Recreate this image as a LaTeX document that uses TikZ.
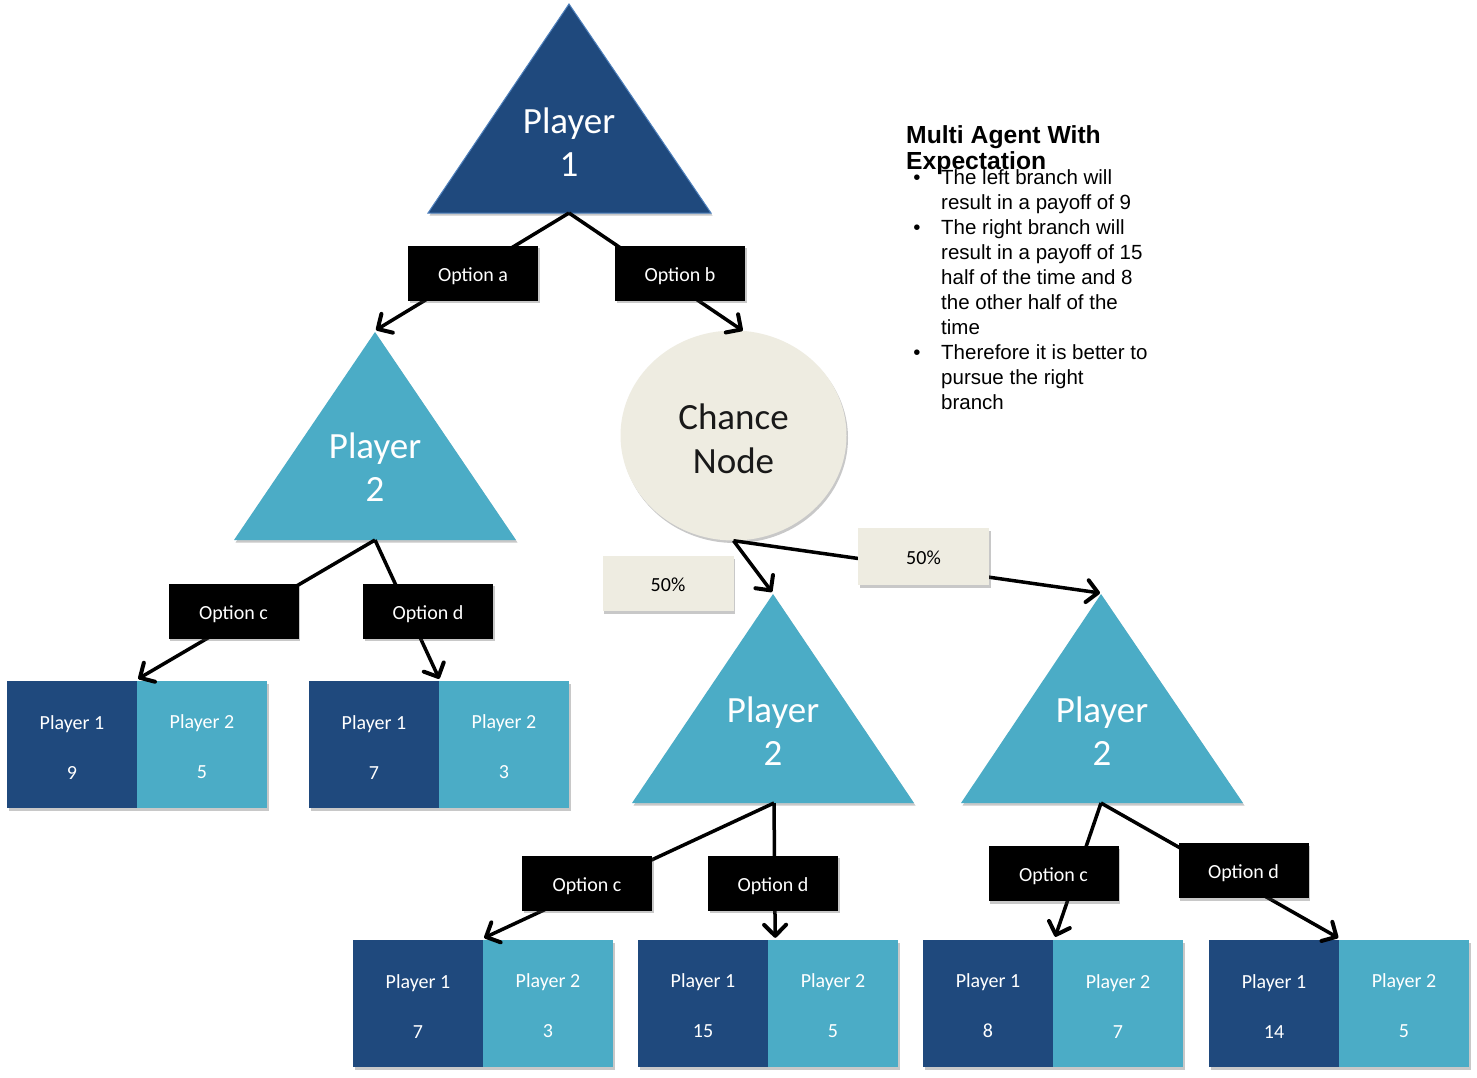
\documentclass[tikz,border=0pt]{standalone}
\usepackage{fontspec}
\setmainfont{Carlito}
\newfontfamily\arialf{Liberation Sans}
\usetikzlibrary{arrows.meta,shadows,calc,shapes.geometric}
\definecolor{dblue}{HTML}{1F497D}
\definecolor{lblue}{HTML}{4BACC6}
\definecolor{beige}{HTML}{EEECE1}
\definecolor{edgeblue}{HTML}{4F81BD}
\tikzset{
  shad/.style={drop shadow={shadow xshift=1.5pt,shadow yshift=-2.5pt,opacity=0.3,fill=black!70}},
  optbox/.style={fill=black,text=white,minimum width=130pt,minimum height=55pt,inner sep=0pt,
    text height=18pt,text depth=1.2pt,font=\fontsize{20}{24}\selectfont,shad},
  probbox/.style={fill=beige,text=black,minimum width=131pt,minimum height=56pt,inner sep=0pt,
    text height=18pt,text depth=1.2pt,font=\fontsize{20}{24}\selectfont,shad},
  cellA/.style={fill=dblue,text=white,minimum width=130pt,minimum height=127pt,inner sep=0pt,
    align=center,font=\fontsize{20}{50}\selectfont,shad},
  cellB/.style={cellA,fill=lblue},
  conn/.style={line width=3.5pt,black},
  arr/.style={conn,-{Straight Barb[length=11pt,width=22pt,line width=4pt,round]}},
  trilabel/.style={text=white,align=center,font=\fontsize{37}{43}\selectfont},
  bul/.style={anchor=base west,inner sep=0pt,font=\arialf\fontsize{20.5}{25}\selectfont},
  bdot/.style={anchor=base,inner sep=0pt,font=\arialf\fontsize{20.5}{25}\selectfont},
  ttl/.style={anchor=base west,inner sep=0pt,font=\arialf\bfseries\fontsize{24.7}{26}\selectfont},
}
\newcommand{\cellstrut}{\rule{0pt}{19pt}}
\begin{document}
\begin{tikzpicture}[x=1pt,y=-1pt]
\useasboundingbox (0,0) rectangle (1477,1077);
\fill[white] (0,0) rectangle (1477,1077);

% ---------- triangles ----------
% Player 1 (top)
\coordinate (t1top) at (569,4);
\coordinate (t1l) at (428,213);
\coordinate (t1r) at (711,213);
\coordinate (t1bot) at (569,213);
\filldraw[fill=dblue,draw=edgeblue,line width=1pt,shad] (t1top) -- (t1r) -- (t1l) -- cycle;
\node[trilabel] (t1) at (569,142.5) {Player\\1};

% Player 2 (left)
\coordinate (t2top) at (375,332);
\coordinate (t2l) at (234,540);
\coordinate (t2r) at (516,540);
\coordinate (t2bot) at (375,540);
\fill[lblue,shad] (t2top) -- (t2r) -- (t2l) -- cycle;
\node[trilabel] (t2) at (375,467.5) {Player\\2};

% Player 2 (middle)
\coordinate (t3top) at (773,594);
\coordinate (t3l) at (632,803);
\coordinate (t3r) at (914,803);
\coordinate (t3bot) at (774,803);
\fill[lblue,shad] (t3top) -- (t3r) -- (t3l) -- cycle;
\node[trilabel] (t3) at (773,731.5) {Player\\2};

% Player 2 (right)
\coordinate (t4top) at (1101,594);
\coordinate (t4l) at (961,803);
\coordinate (t4r) at (1243,803);
\coordinate (t4bot) at (1101,803);
\fill[lblue,shad] (t4top) -- (t4r) -- (t4l) -- cycle;
\node[trilabel] (t4) at (1102,731.5) {Player\\2};

% ---------- chance node ----------
\node[ellipse,fill=beige,minimum width=226pt,minimum height=210pt,inner sep=0pt,
      align=center,font=\fontsize{37}{44}\selectfont,text=black!90,shad]
      (chance) at (733.5,435.5) {\rule{0pt}{32pt}Chance\\Node};

% ---------- payoff cells ----------
\node[cellA] (l1a) at (72,744.5) {\cellstrut Player 1\\9};
\node[cellB] (l1b) at (202,744.5) {\cellstrut Player 2\\5};
\node[cellA] (l2a) at (374,744.5) {\cellstrut Player 1\\7};
\node[cellB] (l2b) at (504,744.5) {\cellstrut Player 2\\3};
\node[cellA] (m1a) at (418,1003.5) {\cellstrut Player 1\\7};
\node[cellB] (m1b) at (548,1003.5) {\cellstrut Player 2\\3};
\node[cellA] (m2a) at (703,1003.5) {\cellstrut Player 1\\15};
\node[cellB] (m2b) at (833,1003.5) {\cellstrut Player 2\\5};
\node[cellA] (r1a) at (988,1003.5) {\cellstrut Player 1\\8};
\node[cellB] (r1b) at (1118,1003.5) {\cellstrut Player 2\\7};
\node[cellA] (r2a) at (1274,1003.5) {\cellstrut Player 1\\14};
\node[cellB] (r2b) at (1404,1003.5) {\cellstrut Player 2\\5};

% ---------- connectors ----------
\draw[arr] (t1bot) -- ($(t2top)+(1,-2)$);
\draw[arr] (t1bot) -- (chance.85);
\draw[arr] (chance.south) -- ($(t3top)+(-1,-2)$);
\draw[arr] (chance.south) -- ($(t4top)+(-1,-1)$);
\draw[arr] (t2bot) -- ($(l1a.north east)+(1,-2)$);
\draw[arr] (t2bot) -- ($(l2a.north east)+(0,-2)$);
\draw[arr] (t3bot) -- ($(m1a.north east)+(1,-2)$);
\draw[arr] (t3bot) -- ($(m2a.north east)+(7,-2)$);
\draw[arr] (t4bot) -- ($(r1a.north east)+(2,-3)$);
\draw[arr] (t4bot) -- ($(r2a.north east)+(-1,-2)$);

% ---------- option labels ----------
\node[optbox] (oa) at (473,273) {Option a};
\node[optbox] (ob) at (680,273) {Option b};
\node[optbox] (oc1) at (233.5,611) {Option c};
\node[optbox] (od1) at (428,611) {Option d};
\node[optbox] (oc2) at (587,883) {Option c};
\node[optbox] (od2) at (773,883) {Option d};
\node[optbox] (oc3) at (1053.5,873.5) {Option c};
\node[optbox] (od3) at (1243.5,870.5) {Option d};

% ---------- probabilities ----------
\node[probbox,minimum height=55pt] (p1) at (668,583.5) {50\%};
\node[probbox,minimum height=57pt] (p2) at (923.5,556.5) {50\%};

% ---------- text ----------
\node[ttl] (title1) at (906,143) {Multi Agent With};
\node[ttl] (title2) at (906,169) {Expectation};

\node[bdot] (b1) at (917,184) {•};
\node[bdot] (b2) at (917,234) {•};
\node[bdot] (b3) at (917,359) {•};
\node[bul] (x0) at (941,184) {The left branch will};
\node[bul] (x1) at (941,209) {result in a payoff of 9};
\node[bul] (x2) at (941,234) {The right branch will};
\node[bul] (x3) at (941,259) {result in a payoff of 15};
\node[bul] (x4) at (941,284) {half of the time and 8};
\node[bul] (x5) at (941,309) {the other half of the};
\node[bul] (x6) at (941,334) {time};
\node[bul] (x7) at (941,359) {Therefore it is better to};
\node[bul] (x8) at (941,384) {pursue the right};
\node[bul] (x9) at (941,409) {branch};
\end{tikzpicture}
\end{document}
